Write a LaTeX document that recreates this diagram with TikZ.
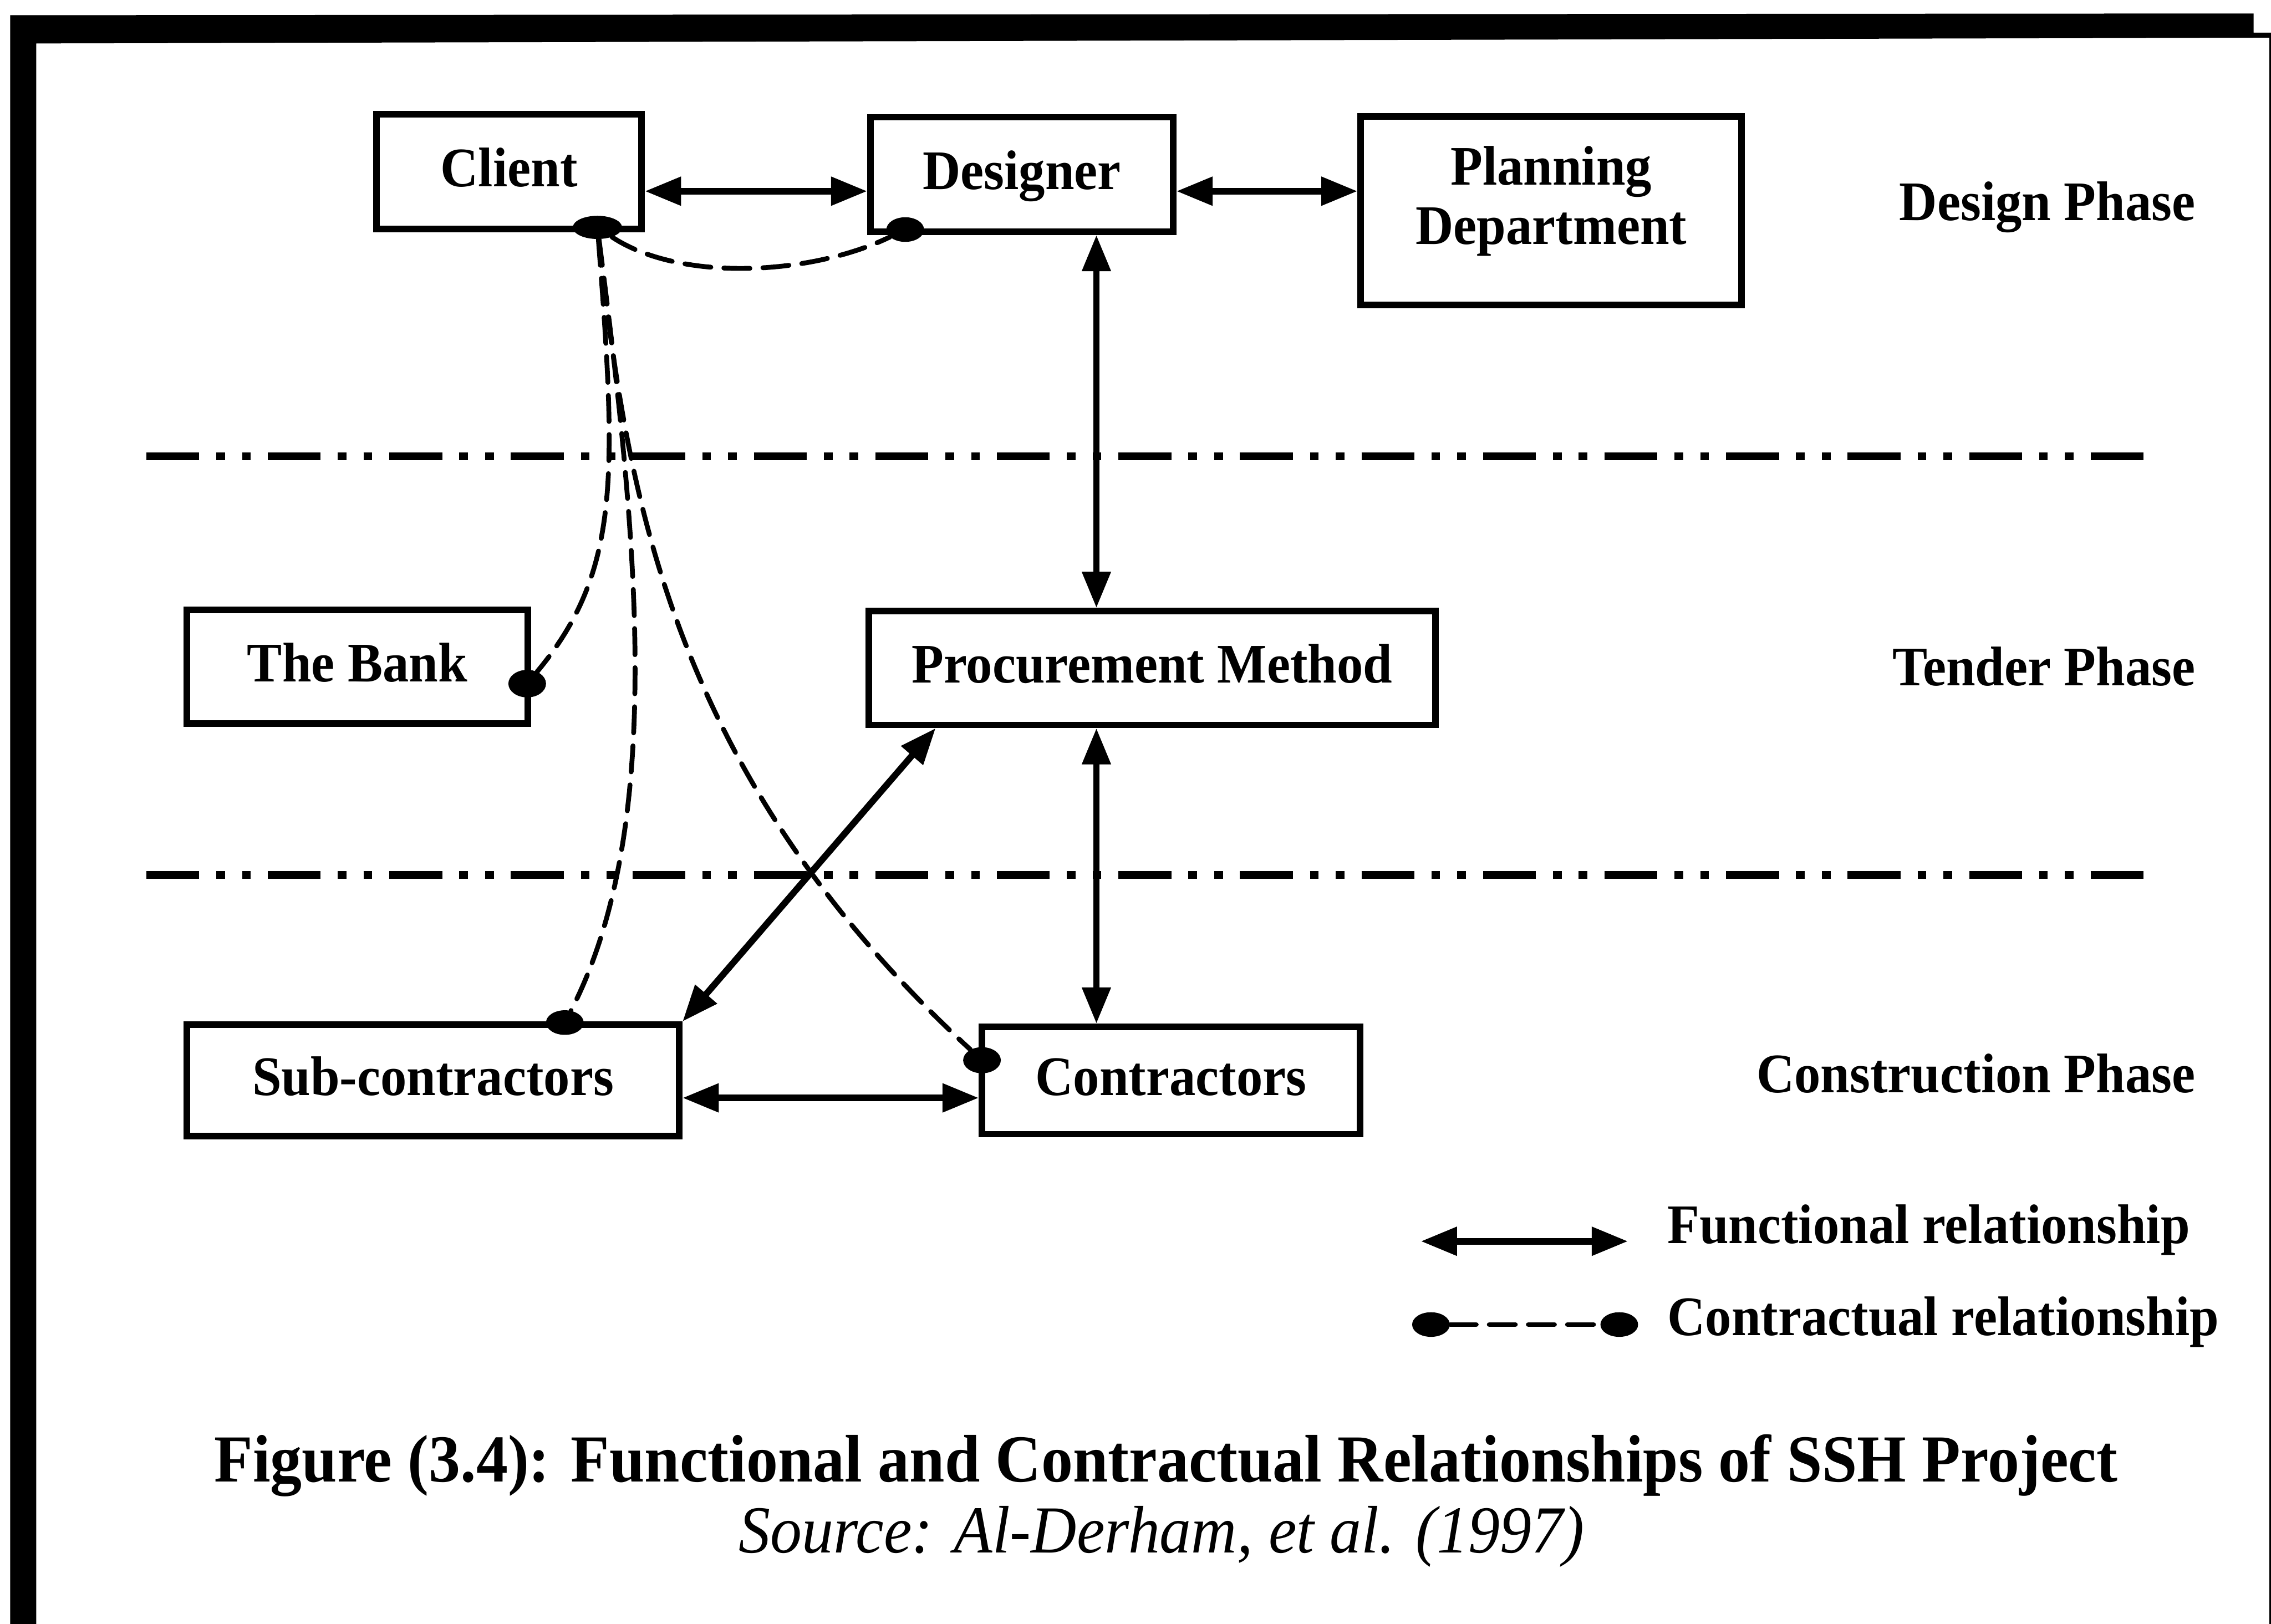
\documentclass[tikz,border=0pt]{standalone}
\usepackage{fontspec}
\setmainfont{Liberation Serif}[FakeStretch=0.94]
\usetikzlibrary{arrows.meta,shapes.geometric}

\newcommand\nodefont{\fontsize{32.9}{40}\selectfont\bfseries}
\newcommand\planfont{\fontsize{32.9}{34.9}\selectfont\bfseries}
\newcommand\capfont{\fontsize{39.6}{48}\selectfont}

\tikzset{
  box/.style={draw, line width=0.135cm, inner sep=0pt, font=\nodefont,
    text height=0.765cm, text depth=0.15cm},
  func/.style={line width=0.135cm,
    {Triangle[length=0.75cm,width=0.57cm]}-{Triangle[length=0.75cm,width=0.57cm]}},
  contract/.style={line width=0.1cm, line cap=round, dash pattern=on 0.54cm off 0.27cm},
  seal/.style={ellipse, fill, draw=none, inner sep=0pt, minimum width=0.78cm, minimum height=0.51cm},
  phaseline/.style={line width=0.165cm,
    dash pattern=on 1.095cm off 0.354cm on 0.18cm off 0.354cm on 0.18cm off 0.354cm},
  phase/.style={font=\nodefont, anchor=base east, inner sep=0pt},
  legendtext/.style={font=\nodefont, anchor=base west, inner sep=0pt},
}

\begin{document}
\begin{tikzpicture}[x=0.03cm, y=-0.03cm]
\useasboundingbox (0,0) rectangle (1568,1121.2);

% heavy frame on top and left, thin rule on the right
\fill (7,10.5) -- (1556,9.3) -- (1556,22.5) -- (1568,22.5) -- (1568,26)
      -- (25,30) -- (25,1121.2) -- (7,1121.2) -- cycle;
\fill (1566.8,22.5) rectangle (1568,1121.2);

% phase separators
\coordinate (sepAl) at (101,315);  \coordinate (sepAr) at (1482,315);
\coordinate (sepBl) at (101,604);  \coordinate (sepBr) at (1482,604);
\draw[phaseline] (sepAl) -- (sepAr);
\draw[phaseline] (sepBl) -- (sepBr);

% parties
\node[box, minimum width=5.49cm, minimum height=2.37cm] (client) at (351.5,118.5) {Client};
\node[box, minimum width=6.27cm, minimum height=2.37cm] (designer) at (705.5,120.5) {Designer};
\node[box, minimum width=7.89cm, minimum height=3.9cm,
      label={[font=\planfont, align=center, inner sep=0pt, yshift=0.2cm]center:Planning\\Department}]
      (plan) at (1071,145.5) {};
\node[box, minimum width=7.065cm, minimum height=2.355cm] (bank) at (246.75,460.25) {The Bank};
\node[box, minimum width=11.73cm, minimum height=2.355cm] (proc) at (795.5,461.25) {Procurement Method};
\node[box, minimum width=10.2cm, minimum height=2.31cm] (sub) at (299,746) {Sub-contractors};
\node[box, minimum width=7.83cm, minimum height=2.22cm] (contr) at (808.5,746) {Contractors};

% phase names
\node[phase] (phD) at (1516,152) {Design Phase};
\node[phase] (phT) at (1516,473.5) {Tender Phase};
\node[phase] (phC) at (1516,754.5) {Construction Phase};

% functional relationships
\coordinate (rowtop) at (0,132);
\coordinate (rowbot) at (0,758);
\coordinate (colmid) at (757,0);
\coordinate (coldiag) at (646,0);
\draw[func] (client.east |- rowtop) -- (designer.west |- rowtop);
\draw[func] (designer.east |- rowtop) -- (plan.west |- rowtop);
\draw[func] (designer.south -| colmid) -- (proc.north -| colmid);
\draw[func] (proc.south -| colmid) -- (contr.north -| colmid);
\draw[func] (proc.south -| coldiag) -- (sub.north east);
\draw[func] (sub.east |- rowbot) -- (contr.west |- rowbot);

% contractual relationships
\node[seal, minimum width=1.02cm, minimum height=0.48cm] (cseal) at (412.5,157) {};
\node[seal] (dseal) at (625,158.5) {};
\node[seal, minimum height=0.57cm] (bseal) at (364,472) {};
\node[seal] (sseal) at (390,706) {};
\node[seal, minimum height=0.54cm] (kseal) at (678,732) {};
\draw[contract] (cseal) .. controls (470,195) and (560,190) .. (dseal);
\draw[contract] (cseal) .. controls (426,330) and (428,395) .. (bseal);
\draw[contract] (cseal) .. controls (440,370) and (460,570) .. (sseal);
\draw[contract] (cseal) .. controls (432,330) and (458,530) .. (kseal);

% legend
\coordinate (lfa) at (981,857);
\coordinate (lfb) at (1124,857);
\draw[func] (lfa) -- (lfb);
\node[seal] (lca) at (988,914.5) {};
\node[seal] (lcb) at (1118,914.5) {};
\draw[contract] (lca) -- (lcb);
\node[legendtext] (lgF) at (1151,858.5) {Functional relationship};
\node[legendtext] (lgC) at (1151,922) {Contractual relationship};

% caption
\node[font=\capfont\bfseries, anchor=base, inner sep=0pt] (caption) at (805,1023)
  {Figure (3.4): Functional and Contractual Relationships of SSH Project};
\node[font=\capfont\itshape, anchor=base, inner sep=0pt] (source) at (802,1072)
  {Source: Al-Derham, et al. (1997)};
\end{tikzpicture}
\end{document}
